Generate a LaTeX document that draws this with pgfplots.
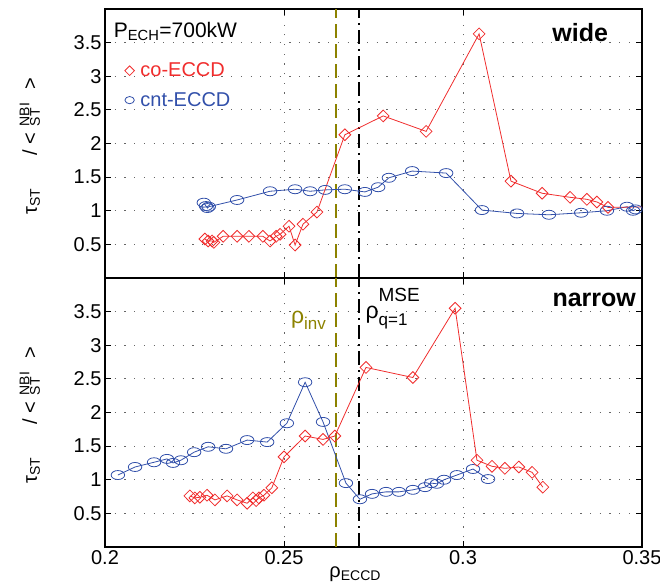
\documentclass[border=0pt]{standalone}
\usepackage{fontspec}
\setmainfont{Liberation Sans}
\usepackage{pgfplots}
\pgfplotsset{compat=1.18}
\definecolor{myred}{RGB}{240,45,45}
\definecolor{myblue}{RGB}{50,80,170}
\definecolor{myolive}{RGB}{140,130,0}
\newcommand{\fs}[1]{\fontsize{#1bp}{#1bp}\selectfont}
\newcommand{\ylab}{τ\textsubscript{ST}\hspace{1.6em}/ <\hspace{0.35em}\makebox[0pt][l]{\textsuperscript{NBI}}\textsubscript{ST}\hspace{0.9em}>}
\pgfplotsset{
 mystyle/.style={
  scale only axis, width=537bp, height=269bp,
  xmin=0.2, xmax=0.35, ymin=0, ymax=4,
  xtick={0.2,0.25,0.3,0.35}, ytick={0.5,1,1.5,2,2.5,3,3.5},
  grid=major, grid style={dash pattern=on 1.2bp off 8.5bp, line width=0.8bp, black!60},
  tick align=inside, major tick length=6bp, tick style={line width=0.8bp, black},
  axis line style={line width=1.4bp},
  ticklabel style={font=\fs{20}},
  /pgf/number format/assume math mode=true,
  xticklabel style={/pgf/number format/.cd, fixed, precision=2},
  yticklabel style={/pgf/number format/.cd, fixed, precision=1},
  ylabel={\ylab},
  ylabel style={font=\fs{20}, at={(axis description cs:-0.14,0.49)}, anchor=center},
  clip=true,
 },
 redp/.style={myred, line width=0.8bp, mark=diamond, mark size=5.9bp, mark options={xscale=1.33, line width=0.8bp, fill=none}},
 bluep/.style={myblue, line width=0.8bp, mark=o, mark size=4.5bp, mark options={xscale=1.5, line width=0.8bp}},
 olv/.style={myolive, line width=2bp, dash pattern=on 14bp off 6bp, forget plot},
 bdd/.style={black, line width=2bp, dash pattern=on 14bp off 5bp on 2bp off 5bp, forget plot},
}
\begin{document}
\begin{tikzpicture}
\path[use as bounding box] (0,0) rectangle (660bp,584bp);
% top panel
\begin{axis}[mystyle, at={(105bp,306bp)}, anchor=south west, xticklabels={},
  legend style={draw=none, fill=none, at={(rel axis cs:0.031,0.815)}, anchor=north west, font=\fs{20}, row sep=10bp, cells={anchor=west}},
  legend cell align=left]
\addplot[olv] coordinates {(0.2644,0) (0.2644,4)};
\addplot[bdd] coordinates {(0.2710,0) (0.2710,4)};
\addplot[bluep, forget plot] coordinates {
(0.2276,1.12)(0.2282,1.07)(0.2286,1.04)(0.2290,1.06)(0.2369,1.16)(0.2461,1.29)(0.2531,1.32)(0.2573,1.29)(0.2615,1.31)(0.2670,1.32)(0.2726,1.28)(0.2763,1.35)(0.2793,1.49)(0.2858,1.59)(0.2953,1.56)(0.3053,1.01)(0.3151,0.96)(0.3240,0.94)(0.3330,0.97)(0.3402,1.00)(0.3458,1.06)(0.3475,1.00)(0.3482,1.02)};
\addplot[redp, forget plot] coordinates {
(0.2279,0.58)(0.2288,0.55)(0.2299,0.55)(0.2304,0.53)(0.2330,0.62)(0.2369,0.62)(0.2402,0.62)(0.2441,0.62)(0.2461,0.55)(0.2478,0.62)(0.2489,0.65)(0.2514,0.77)(0.2531,0.49)(0.2553,0.80)(0.2592,0.98)(0.2670,2.13)(0.2777,2.41)(0.2897,2.18)(0.3045,3.63)(0.3134,1.44)(0.3221,1.26)(0.3299,1.20)(0.3346,1.17)(0.3374,1.13)(0.3405,1.05)(0.3560,1.06)};
\addlegendimage{only marks, myred, mark=diamond, mark size=4.8bp, mark options={xscale=1.33, line width=0.8bp}}
\addlegendentry{\hspace*{4bp}\textcolor{myred}{co-ECCD}}
\addlegendimage{only marks, myblue, mark=o, mark size=3.6bp, mark options={xscale=1.3, line width=0.8bp}}
\addlegendentry{\hspace*{4bp}\textcolor{myblue}{cnt-ECCD}}
\node[anchor=west, font=\fs{21}] at (rel axis cs:0.01,0.915) {P\textsubscript{ECH}=700kW};
\node[font=\bfseries\fs{25}] at (rel axis cs:0.885,0.911) {wide};
\end{axis}
% bottom panel
\begin{axis}[mystyle, at={(105bp,37bp)}, anchor=south west,
  xlabel={ρ\textsubscript{ECCD}},
  xlabel style={font=\fs{20}, at={(axis description cs:0.466,-0.1)}, anchor=center}]
\addplot[olv] coordinates {(0.2644,0) (0.2644,4)};
\addplot[bdd] coordinates {(0.2710,0) (0.2710,4)};
\addplot[bluep] coordinates {
(0.2036,1.07)(0.2084,1.19)(0.2137,1.26)(0.2173,1.31)(0.2190,1.25)(0.2212,1.29)(0.2249,1.41)(0.2288,1.49)(0.2338,1.46)(0.2397,1.59)(0.2453,1.56)(0.2508,1.84)(0.2559,2.45)(0.2609,1.86)(0.2673,0.95)(0.2712,0.71)(0.2746,0.79)(0.2785,0.82)(0.2821,0.82)(0.2860,0.85)(0.2894,0.89)(0.2911,0.95)(0.2927,0.94)(0.2947,1.00)(0.2983,1.07)(0.3028,1.16)(0.3070,1.01)};
\addplot[redp] coordinates {
(0.2237,0.76)(0.2251,0.73)(0.2265,0.74)(0.2285,0.77)(0.2307,0.70)(0.2341,0.76)(0.2369,0.70)(0.2397,0.65)(0.2413,0.73)(0.2422,0.69)(0.2430,0.73)(0.2444,0.77)(0.2466,0.88)(0.2500,1.34)(0.2559,1.65)(0.2609,1.60)(0.2642,1.65)(0.2729,2.67)(0.2860,2.52)(0.2978,3.55)(0.3039,1.29)(0.3081,1.20)(0.3117,1.17)(0.3156,1.19)(0.3193,1.11)(0.3223,0.89)};
\node[anchor=base west, font=\fs{23}, text=myolive] at (axis cs:0.2510,3.33) {ρ\raisebox{-0.3em}{\fs{17}inv}};
\node[anchor=base west, font=\fs{23}] at (axis cs:0.2718,3.40) {ρ\rlap{\raisebox{0.72em}{\fs{19}MSE}}\raisebox{-0.32em}{\fs{17}q=1}};
\node[font=\bfseries\fs{25}] at (rel axis cs:0.911,0.918) {narrow};
\end{axis}
\end{tikzpicture}
\end{document}
